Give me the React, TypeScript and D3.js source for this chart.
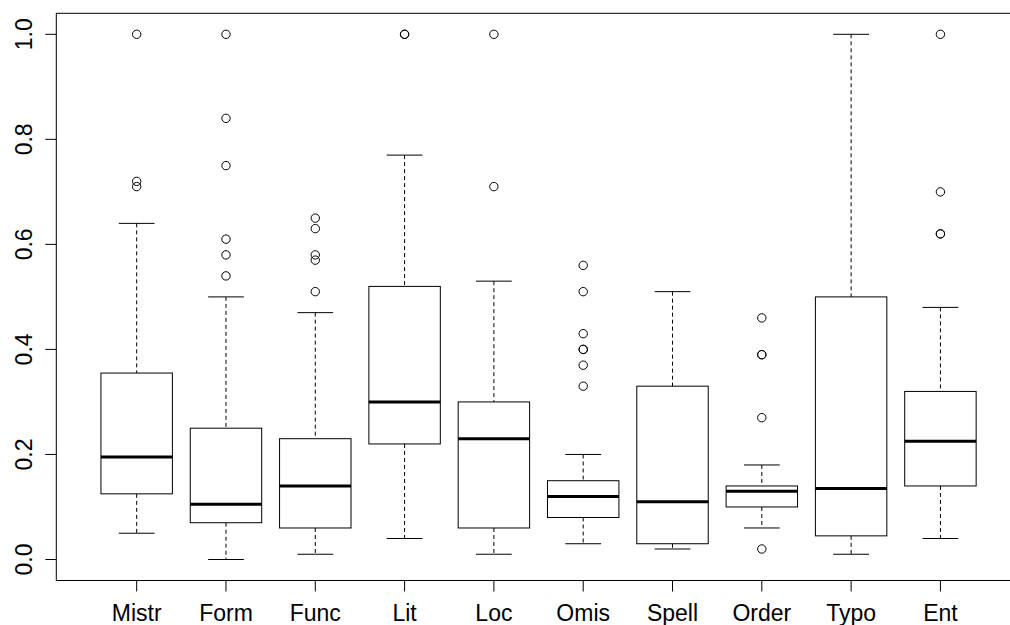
import React, { useEffect, useRef } from 'react';
import * as d3 from 'd3';

// box statistics
const categories = ['Mistr', 'Form', 'Func', 'Lit', 'Loc', 'Omis', 'Spell', 'Order', 'Typo', 'Ent'];
const lowerWhisker = [0.05, 0.0, 0.01, 0.04, 0.01, 0.03, 0.02, 0.06, 0.01, 0.04];
const lowerHinge = [0.125, 0.07, 0.06, 0.22, 0.06, 0.08, 0.03, 0.1, 0.045, 0.14];
const medians = [0.195, 0.105, 0.14, 0.3, 0.23, 0.12, 0.11, 0.13, 0.135, 0.225];
const upperHinge = [0.355, 0.25, 0.23, 0.52, 0.3, 0.15, 0.33, 0.14, 0.5, 0.32];
const upperWhisker = [0.64, 0.5, 0.47, 0.77, 0.53, 0.2, 0.51, 0.18, 1.0, 0.48];
const outliers = [
    [1.0, 0.72, 0.71],
    [1.0, 0.84, 0.75, 0.61, 0.58, 0.54],
    [0.65, 0.63, 0.58, 0.57, 0.51],
    [1.0, 1.0],
    [1.0, 0.71],
    [0.56, 0.51, 0.43, 0.4, 0.4, 0.37, 0.33],
    [],
    [0.46, 0.39, 0.39, 0.27, 0.02],
    [],
    [1.0, 0.7, 0.62, 0.62],
];
const yTicks = [0, 0.2, 0.4, 0.6, 0.8, 1.0];

const WIDTH = 1010;
const HEIGHT = 625;
const FONT = '"Liberation Sans", Arial, Helvetica, sans-serif';

export default function App() {
    const ref = useRef<SVGSVGElement>(null);

    useEffect(() => {
        if (!ref.current) return;
        const svg = d3.select(ref.current);
        svg.selectAll('*').remove();

        const left = 56.3, right = 1020.8, top = 13.3, bottom = 580.5;
        const n = categories.length;

        // R style: xlim c(0.5, n + 0.5) extended by 4%
        const x = d3.scaleLinear().domain([0.1, n + 0.9]).range([left, right]);
        const y = d3.scaleLinear().domain([-0.04, 1.04]).range([bottom, top]);

        const boxHalf = (x(1.4) - x(1)) ;
        const capHalf = (x(1.2) - x(1));

        const g = svg.append('g');

        categories.forEach((name, i) => {
            const cx = x(i + 1);

            // whiskers (dashed)
            g.append('line')
                .attr('x1', cx).attr('x2', cx)
                .attr('y1', y(upperWhisker[i])).attr('y2', y(upperHinge[i]))
                .attr('stroke', '#000').attr('stroke-dasharray', '4,3');
            g.append('line')
                .attr('x1', cx).attr('x2', cx)
                .attr('y1', y(lowerHinge[i])).attr('y2', y(lowerWhisker[i]))
                .attr('stroke', '#000').attr('stroke-dasharray', '4,3');

            // caps
            [upperWhisker[i], lowerWhisker[i]].forEach(v => {
                g.append('line')
                    .attr('x1', cx - capHalf).attr('x2', cx + capHalf)
                    .attr('y1', y(v)).attr('y2', y(v))
                    .attr('stroke', '#000');
            });

            // box
            g.append('rect')
                .attr('x', cx - boxHalf)
                .attr('y', y(upperHinge[i]))
                .attr('width', boxHalf * 2)
                .attr('height', y(lowerHinge[i]) - y(upperHinge[i]))
                .attr('fill', 'none')
                .attr('stroke', '#000');

            // median
            g.append('line')
                .attr('x1', cx - boxHalf).attr('x2', cx + boxHalf)
                .attr('y1', y(medians[i])).attr('y2', y(medians[i]))
                .attr('stroke', '#000').attr('stroke-width', 3);

            // outliers
            outliers[i].forEach(v => {
                g.append('circle')
                    .attr('cx', cx).attr('cy', y(v)).attr('r', 4.2)
                    .attr('fill', 'none').attr('stroke', '#000');
            });

            // x tick + label
            g.append('line')
                .attr('x1', cx).attr('x2', cx)
                .attr('y1', bottom).attr('y2', bottom + 11)
                .attr('stroke', '#000');
            g.append('text')
                .attr('x', cx).attr('y', 620.5)
                .attr('text-anchor', 'middle')
                .style('font-family', FONT)
                .style('font-size', '23px')
                .text(name);
        });

        // y axis ticks and rotated labels
        yTicks.forEach(t => {
            g.append('line')
                .attr('x1', left - 11).attr('x2', left)
                .attr('y1', y(t)).attr('y2', y(t))
                .attr('stroke', '#000');
            g.append('text')
                .attr('transform', `translate(31.5,${y(t)}) rotate(-90)`)
                .attr('text-anchor', 'middle')
                .style('font-family', FONT)
                .style('font-size', '23px')
                .text(d3.format('.1f')(t));
        });

        // plot frame
        svg.append('rect')
            .attr('x', left).attr('y', top)
            .attr('width', right - left).attr('height', bottom - top)
            .attr('fill', 'none').attr('stroke', '#000');
    }, []);

    return (
        <svg
            ref={ref}
            width={WIDTH}
            height={HEIGHT}
            style={{ position: 'absolute', left: 0, top: 0, background: '#fff' }}
        />
    );
}
